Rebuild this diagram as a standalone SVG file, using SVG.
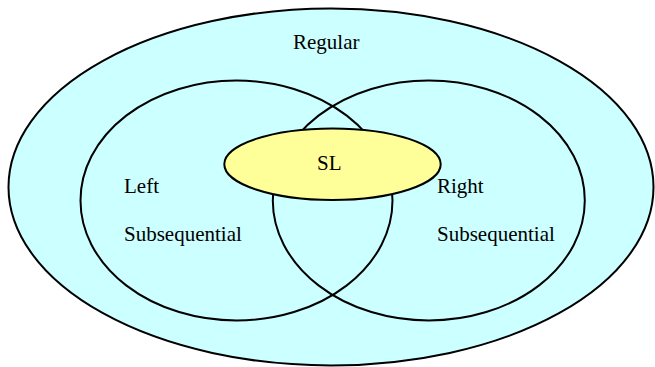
<svg xmlns="http://www.w3.org/2000/svg" width="655" height="367" viewBox="0 0 655 367">
<style>
.s{stroke:#000;stroke-width:2}
.t{font-family:"Liberation Serif","Times New Roman",serif;font-size:21px;fill:#000}
</style>
<rect width="655" height="367" fill="#fff"/>
<g id="regular">
<ellipse class="s" cx="331" cy="187" rx="322.5" ry="178.5" fill="#ccffff"/>
<text class="t" x="293" y="49">Regular</text>
</g>
<g id="left">
<ellipse class="s" cx="236.5" cy="200.5" rx="156" ry="120" fill="none"/>
<text class="t" x="124" y="193">Left</text>
<text class="t" x="124" y="241">Subsequential</text>
</g>
<g id="right">
<ellipse class="s" cx="428.8" cy="200.5" rx="156" ry="120" fill="none"/>
<text class="t" x="437" y="193">Right</text>
<text class="t" x="437" y="241">Subsequential</text>
</g>
<g id="sl">
<ellipse class="s" cx="332.5" cy="164.2" rx="108.2" ry="35.8" fill="#ffff99"/>
<text class="t" x="317" y="170">SL</text>
</g>
<g id="connectors"/>
</svg>
